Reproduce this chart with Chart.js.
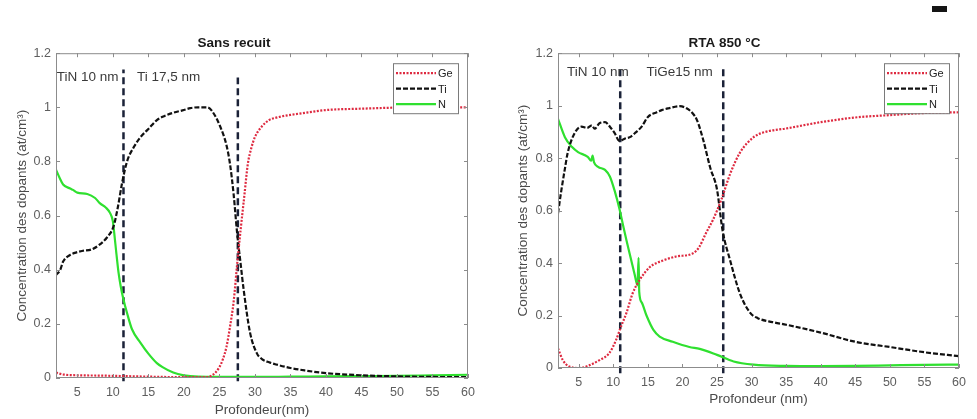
<!DOCTYPE html>
<html>
<head>
<meta charset="utf-8">
<script src="https://cdn.jsdelivr.net/npm/chart.js@4.4.1/dist/chart.umd.min.js"></script>
<style>
    body { margin: 0; background: #fff; width: 977px; height: 419px; overflow: hidden; position: relative; }
    .panel { position: absolute; top: 0; height: 419px; }
    #left { left: 0; width: 488px; }
    #right { left: 490px; width: 487px; }
    .mark { position: absolute; left: 932px; top: 6px; width: 15px; height: 6px; background: #151515; }
</style>
</head>
<body>
<div class="panel" id="left"><canvas id="sansChart" width="488" height="419"></canvas></div>
<div class="panel" id="right"><canvas id="rtaChart" width="487" height="419"></canvas></div>
<div class="mark"></div>
<script>
// Shared axis ticks
const xTicks = [5, 10, 15, 20, 25, 30, 35, 40, 45, 50, 55, 60];
const legendLabels = ['Ge', 'Ti', 'N'];

// "Sans recuit" profiles (depth in nm, concentration)
const sansGeX = [2, 3, 5, 8, 10, 15, 20, 23, 24, 25, 25.5, 26, 26.5, 27, 27.5, 28, 28.5, 29, 29.5, 30, 31, 32, 33, 35, 38, 40, 45, 50, 55, 60];
const sansGe = [0.02, 0.013, 0.01, 0.009, 0.008, 0.005, 0.003, 0.003, 0.01, 0.04, 0.07, 0.115, 0.19, 0.28, 0.42, 0.55, 0.67, 0.79, 0.85, 0.89, 0.93, 0.953, 0.962, 0.972, 0.983, 0.99, 0.995, 0.999, 1.0, 1.0];
const sansTiX = [2, 2.6, 3, 4, 5, 5.8, 7, 8, 9.2, 10.1, 10.7, 11.3, 12, 13, 13.9, 15, 16.2, 17, 18.5, 20, 20.9, 22, 23.3, 24, 25.1, 26, 26.5, 27, 27.5, 28, 28.4, 29.3, 30.3, 31, 32, 33, 35, 37, 40, 45, 50, 55, 60];
const sansTi = [0.38, 0.40, 0.43, 0.455, 0.465, 0.47, 0.475, 0.49, 0.52, 0.56, 0.63, 0.72, 0.80, 0.855, 0.89, 0.92, 0.953, 0.965, 0.98, 0.99, 0.997, 1.0, 1.0, 0.985, 0.93, 0.86, 0.79, 0.68, 0.535, 0.42, 0.33, 0.17, 0.09, 0.07, 0.058, 0.05, 0.037, 0.028, 0.018, 0.01, 0.006, 0.004, 0.003];
const sansNX = [2, 2.5, 3, 4, 4.4, 5, 6.4, 7.5, 8.2, 9, 9.6, 10, 10.2, 10.5, 10.8, 11.1, 11.5, 12, 12.7, 13.9, 15, 16.2, 17, 18.5, 20, 22, 25, 30, 35, 40, 45, 50, 55, 60];
const sansN = [0.77, 0.74, 0.715, 0.70, 0.695, 0.685, 0.68, 0.665, 0.645, 0.63, 0.61, 0.58, 0.535, 0.46, 0.39, 0.34, 0.29, 0.24, 0.18, 0.13, 0.09, 0.055, 0.04, 0.02, 0.01, 0.005, 0.004, 0.004, 0.005, 0.006, 0.007, 0.008, 0.01, 0.012];
const sansBounds = [11.5, 27.6];
const sansBoundTops = [1.14, 1.11];
const sansNotes = ['TiN 10 nm', 'Ti 17,5 nm'];
const sansNoteX = [2.1, 13.4];

// "RTA 850 °C" profiles
const rtaGeX = [2, 2.7, 3.7, 5.1, 6.5, 8.0, 9.4, 10.4, 11.1, 11.9, 12.8, 13.8, 15.3, 17.2, 19.1, 21.5, 22.4, 23.4, 24.4, 25.6, 26.9, 28.3, 30.3, 32, 35, 40, 45, 50, 55, 60];
const rtaGe = [0.075, 0.03, 0.005, 0.0, 0.01, 0.03, 0.056, 0.107, 0.157, 0.21, 0.285, 0.335, 0.385, 0.41, 0.425, 0.437, 0.46, 0.514, 0.564, 0.64, 0.74, 0.82, 0.88, 0.9, 0.913, 0.937, 0.955, 0.964, 0.972, 0.975];
const rtaTiX = [2, 2.5, 3, 3.4, 4.4, 5.4, 6.2, 6.9, 7.3, 8.0, 8.8, 9.5, 10.2, 10.9, 11.7, 12.4, 13.1, 14.1, 15, 16.3, 17, 18, 19.6, 20.6, 21.5, 22.1, 23, 24, 25, 25.8, 26.9, 28.3, 29.8, 30.9, 33, 35, 40, 45, 50, 55, 60];
const rtaTi = [0.59, 0.68, 0.76, 0.82, 0.895, 0.92, 0.915, 0.925, 0.912, 0.933, 0.937, 0.92, 0.895, 0.865, 0.875, 0.88, 0.895, 0.92, 0.957, 0.975, 0.983, 0.99, 0.998, 0.99, 0.97, 0.945, 0.87, 0.765, 0.68, 0.525, 0.41, 0.285, 0.21, 0.19, 0.175, 0.165, 0.135, 0.1, 0.08, 0.06, 0.045];
const rtaNX = [2, 3, 4, 4.9, 6.3, 6.8, 7, 7.2, 7.8, 8.8, 9.5, 10.2, 10.9, 11.4, 11.9, 12.6, 13.1, 13.5, 13.65, 13.75, 14.1, 14.8, 15.8, 16.7, 18.6, 21, 22.5, 25, 27.4, 30.3, 35, 40, 45, 50, 55, 60];
const rtaN = [0.95, 0.88, 0.843, 0.823, 0.805, 0.79, 0.81, 0.785, 0.767, 0.755, 0.73, 0.675, 0.605, 0.545, 0.487, 0.41, 0.355, 0.315, 0.42, 0.29, 0.25, 0.2, 0.145, 0.12, 0.1, 0.08, 0.073, 0.05, 0.025, 0.013, 0.008, 0.007, 0.008, 0.01, 0.012, 0.013];
const rtaBounds = [11, 25.9];
const rtaBoundTops = [1.14, 1.14];
const rtaNotes = ['TiN 10 nm', 'TiGe15 nm'];
const rtaNoteX = [3.3, 14.8];

const FONT = '"Liberation Sans", Arial, sans-serif';
const GE_COLOR = '#de2a40';
const TI_COLOR = '#111111';
const N_COLOR = '#2fe02f';
const BOUND_COLOR = '#1b2238';

function toPoints(xs, ys) {
    return xs.map((x, i) => ({ x: x, y: ys[i] }));
}

// MATLAB-like box, inward ticks, text notes and legend
const matlabFrame = {
    id: 'matlabFrame',
    afterDatasetsDraw(chart, args, opts) {
        const { ctx, chartArea: a } = chart;
        const x = chart.scales.x;
        const y = chart.scales.y;
        ctx.save();

        // Box and ticks
        ctx.strokeStyle = '#8c8c8c';
        ctx.lineWidth = 1;
        ctx.setLineDash([]);
        ctx.strokeRect(a.left + 0.5, a.top + 0.5, a.right - a.left - 1, a.bottom - a.top - 1);
        ctx.beginPath();
        x.ticks.forEach(t => {
            const px = Math.round(x.getPixelForValue(t.value)) + 0.5;
            ctx.moveTo(px, a.bottom); ctx.lineTo(px, a.bottom - 4);
            ctx.moveTo(px, a.top); ctx.lineTo(px, a.top + 4);
        });
        y.ticks.forEach(t => {
            const py = Math.round(y.getPixelForValue(t.value)) + 0.5;
            ctx.moveTo(a.left, py); ctx.lineTo(a.left + 4, py);
            ctx.moveTo(a.right, py); ctx.lineTo(a.right - 4, py);
        });
        ctx.stroke();

        // Layer notes
        ctx.fillStyle = '#3a3a3a';
        ctx.font = '13.5px ' + FONT;
        ctx.textBaseline = 'middle';
        ctx.textAlign = 'left';
        opts.notes.forEach((n, i) => {
            ctx.fillText(n, x.getPixelForValue(opts.noteX[i]), y.getPixelForValue(opts.noteY));
        });

        // Legend
        const w = 65, h = 50;
        const lx = a.right - 10 - w;
        const ly = a.top + 10;
        ctx.fillStyle = '#fff';
        ctx.fillRect(lx, ly, w, h);
        ctx.strokeStyle = '#7a7a7a';
        ctx.strokeRect(lx + 0.5, ly + 0.5, w, h);
        ctx.font = '11px ' + FONT;
        chart.data.datasets.filter(ds => ds.label).forEach((ds, i) => {
            const ry = ly + 10 + i * 15.5;
            ctx.strokeStyle = ds.borderColor;
            ctx.lineWidth = ds.borderWidth;
            ctx.setLineDash(ds.borderDash || []);
            ctx.beginPath();
            ctx.moveTo(lx + 3, ry);
            ctx.lineTo(lx + 43, ry);
            ctx.stroke();
            ctx.fillStyle = '#222';
            ctx.fillText(ds.label, lx + 45, ry + 1);
        });
        ctx.restore();
    }
};

function boundDatasets(bounds, tops, bottom) {
    return bounds.map((b, i) => ({
        label: '',
        data: [{ x: b, y: bottom }, { x: b, y: tops[i] }],
        borderColor: BOUND_COLOR,
        borderWidth: 2.5,
        borderDash: [7, 4],
        pointRadius: 0,
        clip: false
    }));
}

function makeChart(canvasId, cfg) {
    const ctx = document.getElementById(canvasId).getContext('2d');
    return new Chart(ctx, {
        type: 'line',
        data: {
            datasets: [
                {
                    label: legendLabels[0],
                    data: toPoints(cfg.geX, cfg.ge),
                    borderColor: GE_COLOR,
                    borderWidth: 2.2,
                    borderDash: [2, 1.5],
                    pointRadius: 0,
                    cubicInterpolationMode: 'monotone'
                },
                {
                    label: legendLabels[1],
                    data: toPoints(cfg.tiX, cfg.ti),
                    borderColor: TI_COLOR,
                    borderWidth: 2.2,
                    borderDash: [5, 2],
                    pointRadius: 0,
                    cubicInterpolationMode: 'monotone'
                },
                {
                    label: legendLabels[2],
                    data: toPoints(cfg.nX, cfg.n),
                    borderColor: N_COLOR,
                    borderWidth: 2.2,
                    pointRadius: 0,
                    cubicInterpolationMode: 'monotone'
                }
            ].concat(boundDatasets(cfg.bounds, cfg.boundTops, cfg.boundBottom))
        },
        options: {
            responsive: false,
            devicePixelRatio: 1,
            animation: false,
            layout: { padding: { left: 0, right: cfg.padRight, top: 0, bottom: 0 } },
            scales: {
                x: {
                    type: 'linear',
                    min: 2,
                    max: 60,
                    afterBuildTicks: s => { s.ticks = xTicks.map(v => ({ value: v })); },
                    afterFit: s => { s.height = cfg.xAxisHeight; },
                    grid: { display: false, drawTicks: false },
                    border: { display: false },
                    ticks: { color: '#5e5e5e', font: { family: FONT, size: 12.5 }, padding: 7, maxRotation: 0 },
                    title: {
                        display: true,
                        text: cfg.xTitle,
                        color: '#4a4a4a',
                        font: { family: FONT, size: 13.5 },
                        padding: { top: 0, bottom: cfg.xTitlePad }
                    }
                },
                y: {
                    type: 'linear',
                    min: 0,
                    max: 1.2,
                    afterFit: s => { s.width = cfg.yAxisWidth; },
                    grid: { display: false, drawTicks: false },
                    border: { display: false },
                    ticks: {
                        stepSize: 0.2,
                        color: '#5e5e5e',
                        font: { family: FONT, size: 12.5 },
                        padding: 5,
                        callback: v => String(+v.toFixed(1))
                    },
                    title: {
                        display: true,
                        text: 'Concentration des dopants (at/cm³)',
                        color: '#4a4a4a',
                        font: { family: FONT, size: 13.5 },
                        padding: { top: cfg.yTitlePad, bottom: 0 }
                    }
                }
            },
            plugins: {
                legend: { display: false },
                tooltip: { enabled: false },
                title: {
                    display: true,
                    text: cfg.title,
                    color: '#1a1a1a',
                    font: { family: FONT, size: 13.5, weight: 'bold' },
                    padding: { top: 35, bottom: 2 }
                },
                matlabFrame: { notes: cfg.notes, noteX: cfg.noteX, noteY: cfg.noteY }
            }
        },
        plugins: [matlabFrame]
    });
}

makeChart('sansChart', {
    title: 'Sans recuit',
    xTitle: 'Profondeur(nm)',
    geX: sansGeX, ge: sansGe,
    tiX: sansTiX, ti: sansTi,
    nX: sansNX, n: sansN,
    bounds: sansBounds, boundTops: sansBoundTops, boundBottom: -0.012,
    notes: sansNotes, noteX: sansNoteX, noteY: 1.11,
    padRight: 20, yAxisWidth: 56, xAxisHeight: 41, xTitlePad: 1, yTitlePad: 14
});

makeChart('rtaChart', {
    title: 'RTA 850 °C',
    xTitle: 'Profondeur (nm)',
    geX: rtaGeX, ge: rtaGe,
    tiX: rtaTiX, ti: rtaTi,
    nX: rtaNX, n: rtaN,
    bounds: rtaBounds, boundTops: rtaBoundTops, boundBottom: -0.02,
    notes: rtaNotes, noteX: rtaNoteX, noteY: 1.128,
    padRight: 18, yAxisWidth: 68, xAxisHeight: 51, xTitlePad: 12, yTitlePad: 25
});
</script>
</body>
</html>
